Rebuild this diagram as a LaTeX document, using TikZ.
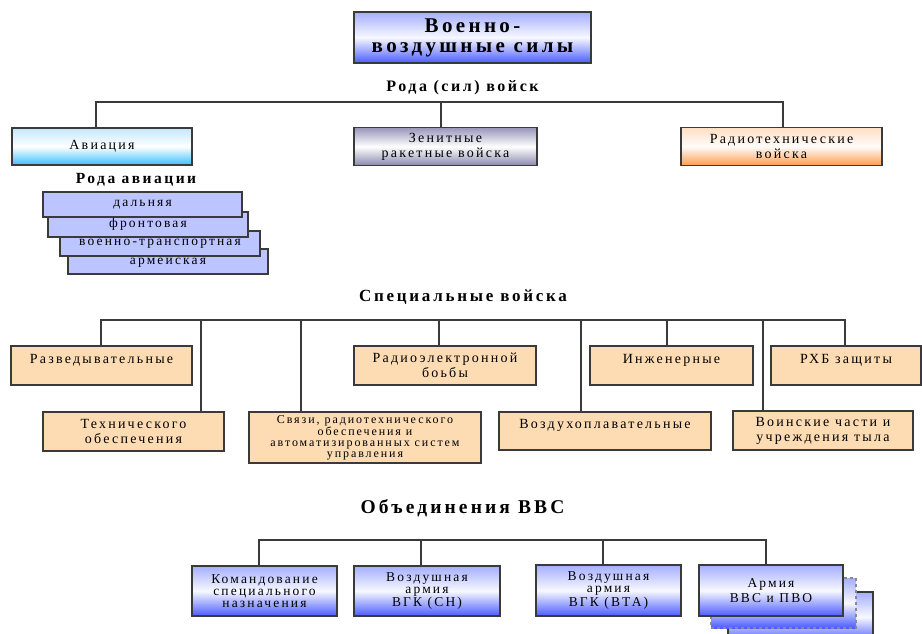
\documentclass[tikz,border=0pt]{standalone}
\usepackage{fontspec}
\setmainfont{Liberation Serif}[LetterSpace=16]
\usepackage{tikz}
\usetikzlibrary{positioning, calc}
\definecolor{VVSBlueTop}{HTML}{A4AEFF}
\definecolor{VVSBlueBot}{HTML}{4A5CFF}
\definecolor{VVSCyanTop}{HTML}{C4E6FF}
\definecolor{VVSCyanBot}{HTML}{38C0FF}
\definecolor{VVSGrayTop}{HTML}{9896BA}
\definecolor{VVSGrayBot}{HTML}{8A88AC}
\definecolor{VVSOrangeTop}{HTML}{FFDFC4}
\definecolor{VVSOrangeBot}{HTML}{FF9C4C}
\definecolor{VVSPeach}{HTML}{FDDBB3}
\definecolor{VVSLilac}{HTML}{BCC5FF}
\definecolor{VVSLine}{HTML}{3A3A3A}

\begin{document}
\begin{tikzpicture}[
    % 像素坐标,y 轴向下
    x=1pt, y=-1pt,
    font=\fontsize{14}{15}\selectfont,
    % 样式定义
    box/.style={
        rectangle,
        draw=VVSLine,
        line width=1.3pt,
        inner sep=0pt,
        align=center
    },
    bluebox/.style={box, top color=VVSBlueTop, bottom color=VVSBlueBot, middle color=white!92!VVSBlueTop},
    cyanbox/.style={box, top color=VVSCyanTop, bottom color=VVSCyanBot, middle color=white},
    graybox/.style={box, top color=VVSGrayTop, bottom color=VVSGrayBot, middle color=white},
    orangebox/.style={box, top color=VVSOrangeTop, bottom color=VVSOrangeBot, middle color=white!90!VVSOrangeTop},
    peachbox/.style={box, fill=VVSPeach},
    lilacbox/.style={box, fill=VVSLilac, font=\fontsize{13.5}{14}\selectfont},
    unitbox/.style={bluebox, font=\fontsize{13.5}{12}\selectfont},
    header/.style={font=\bfseries\fontsize{15.5}{17}\selectfont, inner sep=0pt},
    link/.style={draw=VVSLine, line width=1.3pt}
]
    \useasboundingbox (0,0) rectangle (922,634);

    % ====== 1. 顶部:总标题 ======
    \node[bluebox, minimum width=237pt, minimum height=51pt,
          font=\bfseries\fontsize{21}{20}\selectfont] (vvs) at (472.5,37.5) {Военно-\\воздушные силы};
    \node[header, font=\bfseries\fontsize{16}{17}\selectfont] (rod) at (462.5,88) {Рода (сил) войск};

    % ====== 2. 三个兵种 ======
    \node[cyanbox, minimum width=180pt, minimum height=37pt] (avia) at (102,146.5) {Авиация};
    \node[graybox, minimum width=183pt, minimum height=38pt] (zrv) at (445.5,146.5) {Зенитные\\ракетные войска};
    \node[orangebox, minimum width=201pt, minimum height=38pt] (rtv) at (781.5,146.5) {Радиотехнические\\войска};

    \coordinate (rodL) at (96,102);
    \coordinate (rodZ) at (441,102);
    \coordinate (rodR) at (783,102);
    \draw[link] (rodL |- avia.north) -- (rodL) -- (rodR) -- (rodR |- rtv.north);
    \draw[link] (rodZ) -- (rodZ |- zrv.north);

    % ====== 3. 航空兵种类 (叠放) ======
    \node[header] (rodavia) at (136,180) {Рода авиации};
    \node[lilacbox, minimum width=200pt, minimum height=25pt] (arm) at (168,261.5) {армейская};
    \node[lilacbox, minimum width=200pt, minimum height=25pt] (vt) at (160,243.5) {военно-транспортная};
    \node[lilacbox, minimum width=200pt, minimum height=25pt] (front) at (148,224.5) {фронтовая};
    \node[lilacbox, minimum width=199pt, minimum height=25pt] (dal) at (142.5,204.5) {дальняя};

    % ====== 4. 专业兵 ======
    \node[header, font=\bfseries\fontsize{17}{18}\selectfont] (spec) at (463,297) {Специальные войска};

    \node[peachbox, minimum width=181pt, minimum height=39pt, text depth=22pt, text height=17pt] (razv) at (101.5,365.5) {Разведывательные};
    \node[peachbox, minimum width=181pt, minimum height=39pt] (tech) at (133.5,431.5) {Технического\\обеспечения};
    \node[peachbox, minimum width=232pt, minimum height=51pt,
          font=\fontsize{12}{10.8}\selectfont] (svyaz) at (365,437.5) {Связи, радиотехнического\\обеспечения и\\автоматизированных систем\\управления};
    \node[peachbox, minimum width=182pt, minimum height=39pt] (reb) at (445,365.5) {Радиоэлектронной\\боьбы};
    \node[peachbox, minimum width=212pt, minimum height=38pt, text depth=22pt, text height=16pt] (vozd) at (605,431) {Воздухоплавательные};
    \node[peachbox, minimum width=163pt, minimum height=39pt, text depth=22pt, text height=17pt] (inzh) at (671.5,365.5) {Инженерные};
    \node[peachbox, minimum width=180pt, minimum height=39pt] (tyl) at (823,430.5) {Воинские части и\\учреждения тыла};
    \node[peachbox, minimum width=150pt, minimum height=39pt, text depth=22pt, text height=17pt] (rhb) at (846,365.5) {РХБ защиты};

    \coordinate (spL) at (101,320);
    \coordinate (spR) at (845,320);
    \draw[link] (spL |- razv.north) -- (spL) -- (spR) -- (spR |- rhb.north);
    \coordinate (spTech) at (201,320);
    \coordinate (spSvyaz) at (301,320);
    \coordinate (spReb) at (439,320);
    \coordinate (spVozd) at (581,320);
    \coordinate (spInzh) at (667,320);
    \coordinate (spTyl) at (763,320);
    \draw[link] (spTech) -- (spTech |- tech.north);
    \draw[link] (spSvyaz) -- (spSvyaz |- svyaz.north);
    \draw[link] (spReb) -- (spReb |- reb.north);
    \draw[link] (spVozd) -- (spVozd |- vozd.north);
    \draw[link] (spInzh) -- (spInzh |- inzh.north);
    \draw[link] (spTyl) -- (spTyl |- tyl.north);

    % ====== 5. 空军联合体 ======
    \node[header, font=\bfseries\fontsize{19.5}{20}\selectfont] (obed) at (462.5,508) {Объединения ВВС};

    \node[unitbox, minimum width=145pt, minimum height=50pt] (komand) at (264.5,591) {Командование\\специального\\назначения};
    \node[unitbox, minimum width=146pt, minimum height=50pt] (sn) at (427,591) {Воздушная\\армия\\ВГК (СН)};
    \node[unitbox, minimum width=145pt, minimum height=51pt] (vta) at (608.5,590.5) {Воздушная\\армия\\ВГК (ВТА)};
    % 叠放的"军"框
    \node[bluebox, minimum width=145pt, minimum height=50pt] (armiyaC) at (800.5,617) {};
    \node[bluebox, draw=VVSLine!60, dashed, minimum width=145pt, minimum height=50pt] (armiyaB) at (783.5,603) {};
    \node[unitbox, minimum width=144pt, minimum height=51pt, font=\fontsize{13.5}{15}\selectfont] (armiya) at (771,590.5) {Армия\\ВВС и ПВО};

    \coordinate (obL) at (259,540);
    \coordinate (obSN) at (421,540);
    \coordinate (obVTA) at (603,540);
    \coordinate (obR) at (766,540);
    \draw[link] (obL |- komand.north) -- (obL) -- (obR) -- (obR |- armiya.north);
    \draw[link] (obSN) -- (obSN |- sn.north);
    \draw[link] (obVTA) -- (obVTA |- vta.north);

\end{tikzpicture}
\end{document}
